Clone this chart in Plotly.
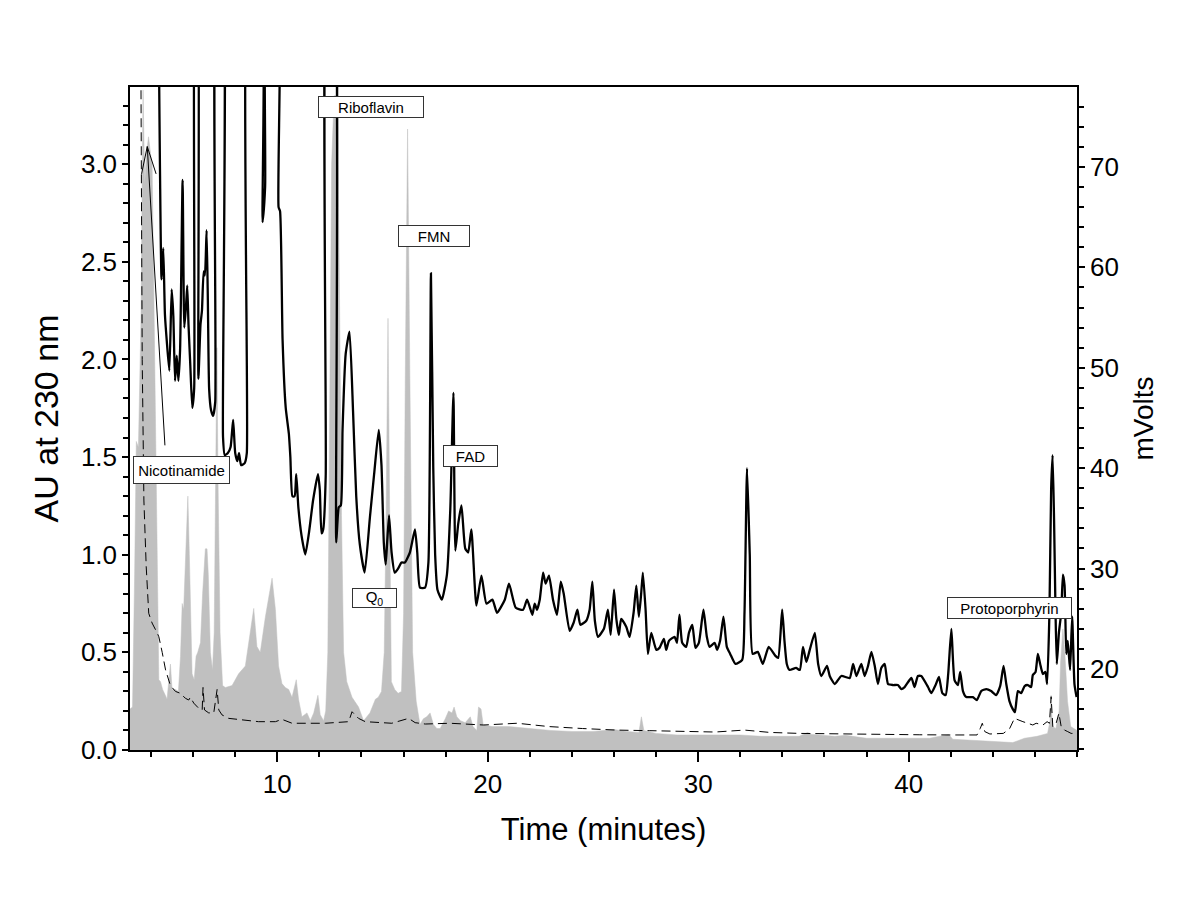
import plotly.graph_objects as go

# ---------------- data ----------------
# Solid black trace, mVolts (right axis); values above 78 run off the top
black_t = [4.32, 4.50, 4.58, 4.66, 4.75, 4.87, 4.98, 5.06, 5.14, 5.22, 5.30, 5.38, 5.50, 5.58, 5.66, 5.72,
           5.78, 5.86, 5.96, 6.05, 6.12, 6.18, 6.25, 6.35, 6.42, 6.50, 6.56, 6.64, 6.70, 6.76, 6.85, 6.95,
           7.05, 7.16, 7.36, 7.42, 7.50, 7.65, 7.78, 7.90, 8.00, 8.10, 8.18, 8.28, 8.45, 8.55, 8.72, 9.18,
           9.30, 9.42, 9.58, 10.00, 10.06, 10.13, 10.25, 10.40, 10.55, 10.62, 10.72, 10.82, 10.90, 11.00,
           11.15, 11.33, 11.50, 11.70, 11.93, 12.02, 12.10, 12.18, 12.30, 12.42, 12.64, 12.80, 12.92, 13.02,
           13.10, 13.25, 13.43, 13.60, 13.75, 13.92, 14.15, 14.40, 14.60, 14.82, 14.95, 15.06, 15.15, 15.22,
           15.31, 15.43, 15.58, 15.74, 15.90, 16.06, 16.30, 16.54, 16.65, 16.78, 17.02, 17.18, 17.30, 17.41,
           17.50, 17.61, 17.82, 18.06, 18.22, 18.37, 18.46, 18.60, 18.75, 18.93, 19.07, 19.22, 19.46, 19.70,
           19.94, 20.22, 20.44, 20.81, 21.01, 21.33, 21.68, 21.87, 22.12, 22.23, 22.34, 22.47, 22.63, 22.75,
           22.91, 23.10, 23.29, 23.47, 23.61, 23.89, 24.08, 24.26, 24.40, 24.68, 24.84, 24.97, 25.09, 25.24,
           25.52, 25.71, 25.84, 26.00, 26.11, 26.23, 26.34, 26.58, 26.74, 26.93, 27.06, 27.18, 27.29, 27.37,
           27.50, 27.61, 27.77, 28.01, 28.16, 28.37, 28.48, 28.61, 28.88, 28.99, 29.11, 29.24, 29.43, 29.56,
           29.72, 29.87, 30.03, 30.25, 30.41, 30.54, 30.78, 30.90, 31.04, 31.20, 31.36, 31.52, 31.77, 32.09,
           32.20, 32.32, 32.45, 32.59, 32.83, 33.07, 33.35, 33.67, 33.80, 33.99, 34.10, 34.21, 34.34, 34.65,
           34.83, 34.98, 35.14, 35.30, 35.54, 35.70, 35.85, 36.12, 36.25, 36.49, 36.80, 37.20, 37.36, 37.52,
           37.75, 37.91, 38.07, 38.23, 38.39, 38.54, 38.70, 38.86, 39.02, 39.26, 39.49, 39.65, 39.81, 40.13,
           40.28, 40.44, 40.60, 40.92, 41.08, 41.28, 41.44, 41.60, 41.76, 41.88, 42.03, 42.18, 42.34, 42.45,
           42.58, 42.74, 43.05, 43.24, 43.45, 43.69, 43.92, 44.16, 44.35, 44.51, 44.64, 44.79, 44.95, 45.05,
           45.19, 45.35, 45.51, 45.66, 45.82, 45.90, 46.03, 46.14, 46.25, 46.38, 46.50, 46.58, 46.69, 46.77,
           46.84, 46.91, 46.98, 47.04, 47.14, 47.25, 47.33, 47.41, 47.49, 47.56, 47.67, 47.77, 47.88, 47.98]
black_mv = [95, 58.8, 61.9, 55.3, 52.6, 49.7, 57.8, 55.1, 48.7, 51.2, 48.7, 51.8, 68.7, 54.0, 56.1, 58.2,
            54.3, 50.5, 46.0, 48.0, 95, 95, 48.9, 54.3, 55.7, 59.6, 59.2, 63.7, 56.7, 47.9, 45.8, 45.2,
            46.6, 95, 95, 43.1, 41.3, 41.5, 42.1, 44.8, 41.5, 40.7, 41.5, 40.3, 40.5, 41.5, 95, 95,
            64.5, 68.0, 95, 95, 66.0, 65.6, 52.8, 46.0, 43.4, 41.1, 37.2, 37.2, 39.4, 36.1,
            33.3, 31.4, 33.5, 36.8, 39.4, 37.8, 33.5, 33.9, 39.2, 95, 95, 32.6, 36.1, 36.3,
            43.8, 51.4, 53.6, 45.6, 37.2, 32.4, 29.6, 35.1, 39.4, 43.8, 40.3, 32.6, 30.4, 32.6,
            35.3, 31.6, 29.6, 30.0, 30.6, 30.6, 31.6, 33.9, 31.6, 28.1, 28.1, 30.6, 59.4, 40.1,
            31.4, 27.9, 26.9, 29.4, 35.9, 47.5, 31.8, 34.5, 36.3, 32.0, 31.6, 33.9, 26.3, 29.3,
            26.5, 26.9, 25.6, 26.9, 28.5, 26.1, 25.9, 26.9, 25.4, 26.5, 25.9, 26.9, 29.6, 28.5,
            29.3, 26.9, 25.4, 28.7, 27.5, 23.8, 24.6, 25.9, 24.4, 24.8, 25.9, 28.7, 24.8, 23.2,
            24.0, 25.9, 23.4, 27.9, 25.0, 23.4, 25.0, 24.2, 23.2, 25.6, 28.3, 25.2, 27.5, 29.6,
            25.9, 21.5, 23.6, 21.9, 22.1, 23.0, 21.9, 22.8, 23.2, 22.6, 25.4, 22.6, 22.2, 23.6,
            24.4, 22.1, 22.6, 25.9, 23.2, 22.2, 22.6, 21.9, 22.8, 25.2, 22.2, 21.5, 20.5, 20.9,
            25.6, 40.0, 31.4, 21.5, 21.7, 20.5, 22.2, 21.3, 21.1, 25.9, 22.8, 20.5, 19.9, 20.1,
            19.9, 22.2, 20.7, 21.9, 23.6, 20.5, 19.3, 20.3, 19.3, 18.5, 19.3, 19.1, 20.5, 19.3,
            20.5, 19.3, 20.3, 21.7, 20.3, 18.5, 20.1, 20.5, 18.5, 18.4, 18.4, 18.0, 18.2, 19.1,
            18.2, 19.3, 19.3, 18.2, 17.6, 18.4, 19.2, 17.6, 17.4, 19.5, 24.0, 18.9, 18.4, 19.7,
            17.8, 17.2, 17.2, 16.9, 17.8, 18.0, 17.8, 17.4, 18.3, 20.3, 18.5, 16.8, 16.0, 15.7,
            17.8, 17.6, 18.3, 18.4, 18.2, 19.4, 19.7, 21.5, 20.5, 19.5, 19.7, 18.5, 25.6, 37.8,
            41.3, 34.9, 25.6, 20.5, 23.6, 25.6, 29.4, 28.3, 21.5, 22.8, 19.9, 25.2, 18.5, 17.2]

# Grey filled trace, AU at 230 nm (left axis)
grey_t = [3.00, 3.12, 3.22, 3.30, 3.40, 3.52, 3.62, 3.70, 3.78, 3.88, 3.98, 4.05, 4.15, 4.25, 4.32, 4.37,
          4.45, 4.55, 4.68, 4.76, 4.92, 5.00, 5.16, 5.30, 5.40, 5.48, 5.55, 5.65, 5.75, 5.82, 5.95, 6.05,
          6.14, 6.22, 6.35, 6.45, 6.58, 6.66, 6.72, 6.82, 6.92, 7.00, 7.08, 7.13, 7.18, 7.28, 7.40, 7.53,
          7.85, 8.16, 8.48, 8.72, 8.88, 9.03, 9.19, 9.43, 9.75, 9.91, 10.06, 10.22, 10.38, 10.54, 10.70,
          10.90, 11.01, 11.17, 11.41, 11.57, 11.73, 11.93, 12.04, 12.20, 12.30, 12.40, 12.50, 12.58, 12.70,
          12.85, 12.95, 13.05, 13.15, 13.30, 13.55, 13.86, 14.10, 14.40, 14.66, 14.80, 14.95, 15.08, 15.17,
          15.26, 15.34, 15.42, 15.58, 15.74, 15.90, 16.00, 16.08, 16.19, 16.30, 16.43, 16.60, 16.78, 16.94,
          17.10, 17.26, 17.42, 17.58, 17.74, 17.98, 18.14, 18.30, 18.40, 18.53, 18.70, 18.93, 19.01, 19.17,
          19.30, 19.48, 19.56, 19.68, 19.78, 20.20, 21.00, 22.00, 23.00, 24.00, 25.00, 26.00, 26.60, 27.18,
          27.30, 27.42, 28.00, 29.00, 30.00, 31.00, 32.00, 33.00, 34.00, 34.80, 35.20, 35.40, 36.50, 37.00,
          38.00, 39.00, 40.00, 41.00, 41.90, 42.10, 43.00, 44.00, 44.95, 45.50, 46.10, 46.60, 46.72, 46.77,
          46.83, 47.00, 47.15, 47.22, 47.33, 47.42, 47.55, 47.70, 48.00]
grey_au = [0.21, 0.22, 0.90, 1.58, 1.55, 2.20, 3.38, 2.90, 3.05, 3.14, 3.05, 3.00, 2.20, 1.30, 0.50, 0.36,
           0.35, 0.31, 0.28, 0.26, 0.44, 0.31, 0.31, 0.30, 0.48, 0.75, 0.72, 1.05, 1.30, 1.00, 0.39, 0.36,
           0.48, 0.50, 0.55, 0.80, 1.03, 1.03, 0.90, 0.50, 0.41, 0.60, 1.40, 2.06, 1.40, 0.60, 0.33, 0.32,
           0.33, 0.39, 0.43, 0.60, 0.725, 0.53, 0.50, 0.68, 0.88, 0.72, 0.43, 0.34, 0.32, 0.31, 0.27,
           0.36, 0.26, 0.17, 0.19, 0.15, 0.19, 0.28, 0.18, 0.15, 0.20, 0.50, 1.80, 3.00, 3.35,
           3.35, 2.40, 1.20, 0.50, 0.35, 0.27, 0.22, 0.15, 0.19, 0.26, 0.27, 0.30, 0.50, 1.20,
           2.21, 1.20, 0.35, 0.31, 0.29, 0.30, 0.70, 1.90, 3.18, 1.90, 0.50, 0.25, 0.13, 0.16,
           0.17, 0.19, 0.13, 0.11, 0.11, 0.16, 0.20, 0.19, 0.22, 0.17, 0.15, 0.14, 0.15, 0.17,
           0.12, 0.10, 0.22, 0.21, 0.13, 0.12, 0.12, 0.11, 0.10, 0.095, 0.095, 0.105, 0.095, 0.09,
           0.17, 0.10, 0.085, 0.077, 0.077, 0.077, 0.077, 0.07, 0.07, 0.07, 0.09, 0.08, 0.07, 0.075,
           0.06, 0.06, 0.06, 0.06, 0.08, 0.055, 0.05, 0.045, 0.038, 0.06, 0.07, 0.085, 0.15, 0.28,
           0.12, 0.11, 0.20, 0.45, 0.62, 0.50, 0.25, 0.12, 0.10]

# Dashed trace, AU (left axis)
dash_t = [3.52, 3.58, 3.66, 3.77, 3.89, 4.05, 4.29, 4.37, 4.53, 4.69, 4.92, 5.16, 5.40, 5.63, 5.79, 5.87,
          6.03, 6.27, 6.43, 6.47, 6.54, 6.74, 6.98, 7.14, 7.22, 7.37, 7.69, 8.32, 9.11, 9.91, 10.22, 10.70,
          12.28, 13.39, 13.55, 13.86, 14.18, 15.44, 16.24, 16.55, 17.03, 18.20, 19.80, 21.40, 22.90, 24.50,
          26.10, 27.70, 29.30, 30.80, 32.20, 33.40, 34.80, 36.50, 38.80, 40.50, 42.00, 43.25, 43.40, 43.50,
          43.62, 43.86, 44.50, 44.80, 45.03, 45.19, 45.43, 45.66, 45.90, 46.06, 46.38, 46.58, 46.69, 46.77,
          46.85, 47.01, 47.14, 47.25, 47.41, 47.56, 47.72, 47.98]
dash_au = [3.45, 2.00, 1.28, 0.94, 0.70, 0.65, 0.60, 0.58, 0.50, 0.41, 0.33, 0.30, 0.29, 0.265, 0.256, 0.27,
           0.24, 0.213, 0.205, 0.32, 0.205, 0.19, 0.19, 0.31, 0.205, 0.18, 0.162, 0.154, 0.145, 0.145, 0.157, 0.137,
           0.137, 0.145, 0.196, 0.162, 0.145, 0.137, 0.162, 0.14, 0.133, 0.137, 0.128, 0.137, 0.12, 0.11,
           0.102, 0.099, 0.094, 0.092, 0.102, 0.09, 0.085, 0.082, 0.080, 0.078, 0.077, 0.077, 0.11, 0.137,
           0.094, 0.082, 0.085, 0.11, 0.162, 0.154, 0.145, 0.137, 0.128, 0.137, 0.128, 0.145, 0.137, 0.273,
           0.119, 0.137, 0.188, 0.119, 0.102, 0.094, 0.085, 0.085]

# Thin solid trace at the start, AU (left axis)
thin_t = [3.55, 3.82, 4.24, None, 3.82, 4.66]
thin_au = [2.95, 3.09, 2.95, None, 3.09, 1.56]

# Peak labels: (text, time, AU position)
label_text = ["Nicotinamide", "Riboflavin", "FMN", "FAD", "Q<sub>0</sub>", "Protoporphyrin"]
label_t = [5.47, 14.44, 17.45, 19.18, 14.60, 44.79]
label_au = [1.434, 3.292, 2.632, 1.505, 0.778, 0.727]
label_w = [93, 102, 68, 51, 41, 121]
label_h = [24, 18, 18, 18, 16, 18]

# ---------------- figure ----------------
FONT = "Arial, Liberation Sans, sans-serif"
fig = go.Figure()

fig.add_trace(go.Scatter(x=grey_t, y=grey_au, mode="lines", fill="tozeroy",
                         fillcolor="#c0c0c0", line=dict(color="#c0c0c0", width=0.5),
                         yaxis="y", showlegend=False, hoverinfo="skip"))
fig.add_trace(go.Scatter(x=dash_t, y=dash_au, mode="lines",
                         line=dict(color="black", width=1, dash="9px,5px"),
                         yaxis="y", showlegend=False))
fig.add_trace(go.Scatter(x=thin_t, y=thin_au, mode="lines",
                         line=dict(color="black", width=1), connectgaps=False,
                         yaxis="y", showlegend=False))
fig.add_trace(go.Scatter(x=black_t, y=black_mv, mode="lines",
                         line=dict(color="black", width=2.3, shape="spline", smoothing=0.5),
                         yaxis="y2", showlegend=False))

for txt, tx, ty, w, h in zip(label_text, label_t, label_au, label_w, label_h):
    fig.add_annotation(x=tx, y=ty, xref="x", yref="y", text=txt, showarrow=False,
                       font=dict(family=FONT, size=15, color="black"),
                       bgcolor="white", bordercolor="#333333", borderwidth=1, borderpad=1,
                       width=w, height=h, align="center", valign="middle")

tickfont = dict(family=FONT, size=26, color="black")

fig.update_layout(
    width=1200, height=900,
    margin=dict(l=122, r=131, t=79, b=158),
    plot_bgcolor="white", paper_bgcolor="white",
    xaxis=dict(range=[3.0, 48.0], tick0=0, dtick=10, ticks="outside", ticklen=10, tickwidth=1.5,
               tickcolor="black", showline=True, linecolor="black", linewidth=1.5, mirror=True,
               showgrid=False, zeroline=False, tickfont=tickfont,
               minor=dict(dtick=2, tick0=0, ticks="outside", ticklen=5, tickwidth=1.5,
                          tickcolor="black", showgrid=False),
               title=dict(text="Time (minutes)", font=dict(family=FONT, size=31, color="black"),
                          standoff=20)),
    yaxis=dict(range=[0, 3.395], tick0=0, dtick=0.5, tickformat=".1f", ticks="outside", ticklen=6,
               tickwidth=1.5, tickcolor="black", showline=True, linecolor="black", linewidth=1.5,
               showgrid=False, zeroline=False, tickfont=tickfont,
               minor=dict(dtick=0.1, tick0=0, ticks="outside", ticklen=5, tickwidth=1.5,
                          tickcolor="black", showgrid=False),
               title=dict(text="AU at 230 nm", font=dict(family=FONT, size=34, color="black"),
                          standoff=12)),
    yaxis2=dict(range=[11.93, 77.96], overlaying="y", side="right", tick0=0, dtick=10,
                ticks="outside", ticklen=6, tickwidth=1.5, tickcolor="black", showline=True,
                linecolor="black", linewidth=1.5, showgrid=False, zeroline=False, tickfont=tickfont,
                minor=dict(dtick=2, tick0=0, ticks="outside", ticklen=5, tickwidth=1.5,
                           tickcolor="black", showgrid=False),
                title=dict(text="mVolts", font=dict(family=FONT, size=28, color="black"),
                           standoff=16)),
)

fig.write_html("out.html")
